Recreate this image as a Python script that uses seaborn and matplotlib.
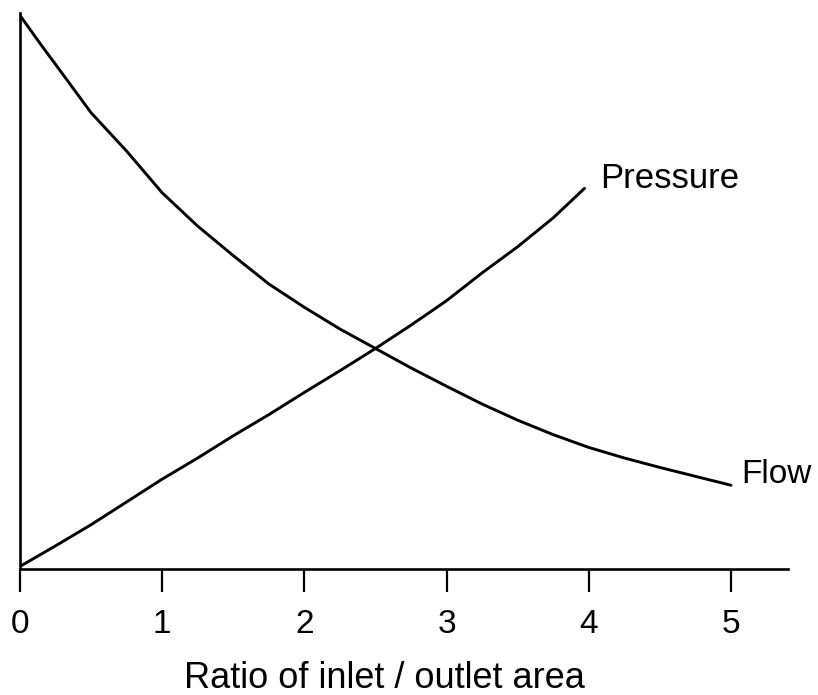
import numpy as np
import pandas as pd
import matplotlib
matplotlib.use("Agg")
import matplotlib.pyplot as plt
import seaborn as sns

# values (y in % of axis height)
flow_x = [0.0, 0.16, 0.25, 0.5, 0.75, 1.0, 1.25, 1.5, 1.75, 2.0, 2.25, 2.5,
          2.75, 3.0, 3.25, 3.5, 3.75, 4.0, 4.25, 4.5, 4.75, 5.0]
flow_y = [99.6, 93.9, 90.8, 82.1, 75.2, 67.7, 61.7, 56.4, 51.3, 47.1, 43.2, 39.7,
          36.2, 32.9, 29.7, 26.8, 24.2, 21.9, 20.0, 18.3, 16.7, 15.1]

pressure_x = [0.0, 0.25, 0.5, 0.75, 1.0, 1.25, 1.5, 1.75, 2.0, 2.25, 2.5,
              2.75, 3.0, 3.25, 3.5, 3.75, 3.97]
pressure_y = [0.5, 4.2, 8.0, 12.1, 16.2, 20.0, 24.0, 27.8, 31.8, 35.7, 39.7,
              43.9, 48.3, 53.3, 58.0, 63.2, 68.5]

x_ticks = [0, 1, 2, 3, 4, 5]

df = pd.concat([
    pd.DataFrame({'ratio': flow_x, 'value': flow_y, 'series': 'Flow'}),
    pd.DataFrame({'ratio': pressure_x, 'value': pressure_y, 'series': 'Pressure'}),
])

sns.set_style("ticks")
plt.rcParams['font.family'] = ['Liberation Sans', 'DejaVu Sans']
plt.rcParams['text.color'] = 'black'

fig = plt.figure(figsize=(8.18, 6.95), dpi=100)
ax = fig.add_axes([0.0244, 0.181, 0.9388, 0.8])

sns.lineplot(data=df, x='ratio', y='value', hue='series', sort=False,
             palette={'Flow': 'black', 'Pressure': 'black'},
             linewidth=2.1, legend=False, ax=ax)

ax.set_xlim(0, 5.4)
ax.set_ylim(0, 100)
ax.set_xticks(x_ticks)
ax.set_xticklabels([str(t) for t in x_ticks], fontsize=24)
ax.set_yticks([])
ax.tick_params(axis='x', direction='out', length=16.5, width=1.6, pad=12,
               colors='black', labelcolor='black')
for side in ['top', 'right']:
    ax.spines[side].set_visible(False)
for side in ['left', 'bottom']:
    ax.spines[side].set_linewidth(1.9)
    ax.spines[side].set_color('black')

ax.set_xlabel('Ratio of inlet / outlet area', fontsize=26, color='black')
ax.xaxis.set_label_coords(0.475, -0.165)
ax.set_ylabel('')

# curve labels
ax.text(pressure_x[-1] + 0.11, pressure_y[-1] + 1.8, 'Pressure', fontsize=25,
        va='center', ha='left', color='black')
ax.text(flow_x[-1] + 0.07, flow_y[-1] + 2.0, 'Flow', fontsize=24,
        va='center', ha='left', color='black')

plt.savefig('out.png', dpi=100)
